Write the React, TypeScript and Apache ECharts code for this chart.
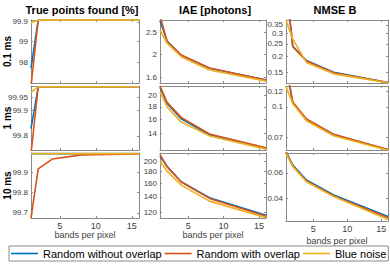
import React, { useEffect, useRef } from "react";
import * as echarts from "echarts";

// ---------- data ----------
const bands = [1, 2, 4, 8, 16];
const seriesNames = ["Random without overlap", "Random with overlap", "Blue noise"];
const seriesColors = ["#0072BD", "#D95319", "#EDB120"];
const colTitles = ["True points found [%]", "IAE [photons]", "NMSE B"];
const rowLabels = ["0.1 ms", "1 ms", "10 ms"];
const xTicks = [5, 10, 15];
const xRange = [1, 16];

// True points found [%]
const tpTicks01 = [98, 99, 99.9];
const tpRange01 = [97.05, 99.99];
const tp01NoOverlap = [97.74, 99.98, 99.98, 99.98, 99.98];
const tp01Overlap = [96.9, 99.98, 99.98, 99.98, 99.98];
const tp01BlueNoise = [99.85, 99.985, 99.985, 99.985, 99.985];

const tpTicks1 = [99.8, 99.9, 99.95];
const tpRange1 = [99.745, 99.993];
const tp1NoOverlap = [99.828, 99.99, 99.99, 99.99, 99.99];
const tp1Overlap = [99.73, 99.99, 99.99, 99.99, 99.99];
const tp1BlueNoise = [99.968, 99.99, 99.99, 99.99, 99.99];

const tpTicks10 = [99.7, 99.8, 99.9];
const tpRange10 = [99.675, 99.993];
const tp10NoOverlap = [99.99, 99.99, 99.99, 99.99, 99.99];
const tp10Overlap = [99.675, 99.915, 99.964, 99.984, 99.988];
const tp10BlueNoise = [99.99, 99.99, 99.99, 99.99, 99.99];

// IAE [photons]
const iaeTicks01 = [1.6, 2, 2.5];
const iaeRange01 = [1.512, 2.82];
const iae01NoOverlap = [2.8, 2.29, 1.99, 1.75, 1.556];
const iae01Overlap = [2.95, 2.28, 1.995, 1.755, 1.558];
const iae01BlueNoise = [2.56, 2.24, 1.96, 1.72, 1.54];

const iaeTicks1 = [14, 16, 18, 20];
const iaeRange1 = [12.0, 21.9];
const iae1NoOverlap = [21.6, 18.6, 16.1, 13.85, 12.2];
const iae1Overlap = [21.9, 18.8, 16.3, 13.95, 12.25];
const iae1BlueNoise = [20.7, 18.0, 15.6, 13.7, 12.1];

const iaeTicks10 = [120, 140, 160, 180, 200];
const iaeRange10 = [113.5, 217];
const iae10NoOverlap = [210, 190, 163, 139, 116.7];
const iae10Overlap = [214, 189, 162.6, 138, 115.5];
const iae10BlueNoise = [200, 181, 157.5, 134.3, 113.7];

// NMSE B
const nmTicks01 = [0.15, 0.2, 0.25, 0.3, 0.35];
const nmRange01 = [0.125, 0.382];
const nm01NoOverlap = [0.7, 0.24, 0.186, 0.151, 0.126];
const nm01Overlap = [0.75, 0.238, 0.1845, 0.15, 0.126];
const nm01BlueNoise = [0.38, 0.272, 0.18, 0.147, 0.1255];

const nmTicks1 = [0.07, 0.1, 0.12];
const nmRange1 = [0.0603, 0.128];
const nm1NoOverlap = [0.16, 0.105, 0.0865, 0.0723, 0.0605];
const nm1Overlap = [0.165, 0.106, 0.0868, 0.0725, 0.0606];
const nm1BlueNoise = [0.127, 0.104, 0.085, 0.0713, 0.0601];

const nmTicks10 = [0.04, 0.06];
const nmRange10 = [0.022, 0.0758];
const nm10NoOverlap = [0.077, 0.0663, 0.0545, 0.0426, 0.0255];
const nm10Overlap = [0.0765, 0.0655, 0.0537, 0.0418, 0.0246];
const nm10BlueNoise = [0.0755, 0.065, 0.0531, 0.0413, 0.0232];

// ---------- layout ----------
const FONT = "'Liberation Sans', Arial, Helvetica, sans-serif";
const AXIS_COLOR = "#8a8a8a";
const LABEL_COLOR = "#404040";
const TICK_FONT = 8;
const colLeft = [31, 160, 286];
const colWidth = [108, 106, 102];
const rowTop = [20, 86, 153];
const rowHeight = [63, 64, 65];
const colTitleX = [82, 215, 335];

type Panel = { type: "value" | "log"; range: number[]; ticks: number[]; lines: number[][] };

const panels: Panel[][] = [
  [
    { type: "value", range: tpRange01, ticks: tpTicks01, lines: [tp01NoOverlap, tp01Overlap, tp01BlueNoise] },
    { type: "log", range: iaeRange01, ticks: iaeTicks01, lines: [iae01NoOverlap, iae01Overlap, iae01BlueNoise] },
    { type: "log", range: nmRange01, ticks: nmTicks01, lines: [nm01NoOverlap, nm01Overlap, nm01BlueNoise] },
  ],
  [
    { type: "value", range: tpRange1, ticks: tpTicks1, lines: [tp1NoOverlap, tp1Overlap, tp1BlueNoise] },
    { type: "log", range: iaeRange1, ticks: iaeTicks1, lines: [iae1NoOverlap, iae1Overlap, iae1BlueNoise] },
    { type: "log", range: nmRange1, ticks: nmTicks1, lines: [nm1NoOverlap, nm1Overlap, nm1BlueNoise] },
  ],
  [
    { type: "value", range: tpRange10, ticks: tpTicks10, lines: [tp10NoOverlap, tp10Overlap, tp10BlueNoise] },
    { type: "log", range: iaeRange10, ticks: iaeTicks10, lines: [iae10NoOverlap, iae10Overlap, iae10BlueNoise] },
    { type: "value", range: nmRange10, ticks: nmTicks10, lines: [nm10NoOverlap, nm10Overlap, nm10BlueNoise] },
  ],
];

const fmt = (v: number) => String(parseFloat(Number(v).toFixed(5)));

function buildOption() {
  const grid: any[] = [];
  const xAxis: any[] = [];
  const yAxis: any[] = [];
  const series: any[] = [];

  panels.forEach((row, r) => {
    row.forEach((p, c) => {
      const gi = grid.length;
      const h = r === 2 && c === 2 ? 68 : rowHeight[r];
      grid.push({ left: colLeft[c], top: rowTop[r], width: colWidth[c], height: h, show: false });

      const lineStyle = { color: AXIS_COLOR, width: 1 };
      const xBase = {
        type: "value",
        gridIndex: gi,
        min: xRange[0],
        max: xRange[1],
        splitLine: { show: false },
        axisLine: { show: true, onZero: false, lineStyle },
        axisTick: { show: true, inside: true, length: 2, customValues: xTicks, lineStyle },
      };
      xAxis.push({
        ...xBase,
        position: "bottom",
        axisLabel: {
          show: r === 2,
          customValues: xTicks,
          margin: 3,
          fontSize: 9,
          fontFamily: FONT,
          color: LABEL_COLOR,
          hideOverlap: false,
          showMinLabel: true,
          showMaxLabel: true,
        },
        name: r === 2 ? "bands per pixel" : "",
        nameLocation: "middle",
        nameGap: c === 2 ? 15 : 12,
        nameTextStyle: { fontSize: 9, fontFamily: FONT, color: LABEL_COLOR },
      });
      xAxis.push({ ...xBase, position: "top", axisLabel: { show: false, customValues: xTicks } });

      const yBase = {
        type: p.type,
        logBase: 10,
        gridIndex: gi,
        min: p.range[0],
        max: p.range[1],
        scale: true,
        splitLine: { show: false },
        axisLine: { show: true, onZero: false, lineStyle },
        axisTick: { show: true, inside: true, length: 2, customValues: p.ticks, lineStyle },
        minorTick: { show: false },
      };
      yAxis.push({
        ...yBase,
        position: "left",
        axisLabel: {
          show: true,
          customValues: p.ticks,
          margin: 3,
          fontSize: TICK_FONT,
          fontFamily: FONT,
          color: LABEL_COLOR,
          formatter: fmt,
          hideOverlap: false,
          showMinLabel: true,
          showMaxLabel: true,
          interval: 0,
        },
      });
      yAxis.push({ ...yBase, position: "right", axisLabel: { show: false, customValues: p.ticks } });

      p.lines.forEach((vals, k) => {
        series.push({
          type: "line",
          name: seriesNames[k],
          xAxisIndex: 2 * gi,
          yAxisIndex: 2 * gi,
          data: bands.map((b, i) => [b, vals[i]]),
          symbol: "none",
          showSymbol: false,
          clip: true,
          lineStyle: { color: seriesColors[k], width: 1.6 },
          itemStyle: { color: seriesColors[k] },
          emphasis: { disabled: true },
        });
      });
    });
  });

  const graphic: any[] = [];
  colTitles.forEach((t, c) => {
    graphic.push({
      type: "text",
      x: colTitleX[c],
      y: 10,
      style: {
        text: t,
        textAlign: "center",
        textVerticalAlign: "middle",
        fontSize: 11,
        fontWeight: "bold",
        fontFamily: FONT,
        fill: "#000",
      },
    });
  });
  rowLabels.forEach((t, r) => {
    graphic.push({
      type: "text",
      x: 7,
      y: rowTop[r] + rowHeight[r] / 2,
      rotation: Math.PI / 2,
      style: {
        text: t,
        textAlign: "center",
        textVerticalAlign: "middle",
        fontSize: 10,
        fontWeight: "bold",
        fontFamily: FONT,
        fill: "#000",
      },
    });
  });

  return {
    animation: false,
    backgroundColor: "#fff",
    grid,
    xAxis,
    yAxis,
    series,
    graphic,
    legend: {
      data: seriesNames.map((n) => ({ name: n, icon: "rect" })),
      left: 9,
      top: 246,
      orient: "horizontal",
      itemWidth: 27,
      itemHeight: 1.6,
      itemGap: 3,
      padding: [2, 2],
      borderColor: "#8a8a8a",
      borderWidth: 1,
      selectedMode: false,
      textStyle: { fontSize: 11, fontFamily: FONT, color: "#000" },
    },
  };
}

export default function App() {
  const ref = useRef<HTMLDivElement>(null);
  useEffect(() => {
    if (!ref.current) return;
    const chart = echarts.init(ref.current, undefined, { renderer: "svg" });
    chart.setOption(buildOption() as any);
    return () => chart.dispose();
  }, []);
  return (
    <div
      ref={ref}
      style={{ position: "fixed", left: 0, top: 0, width: 390, height: 266, background: "#fff" }}
    />
  );
}
